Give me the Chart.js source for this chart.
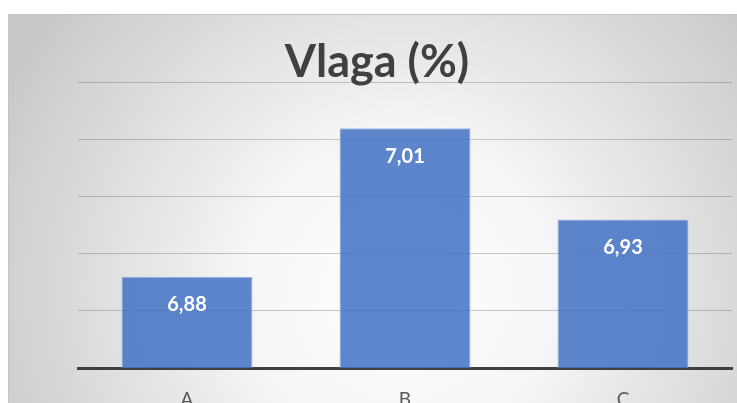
<!DOCTYPE html>
<html>
<head>
<meta charset="utf-8">
<script src="https://cdn.jsdelivr.net/npm/chart.js@4.4.1/dist/chart.umd.min.js"></script>
<style>
  html, body { margin: 0; padding: 0; background: #fff; }
  #wrap { width: 737px; height: 403px; overflow: hidden; position: relative; }
  canvas { display: block; }
</style>
</head>
<body>
<div id="wrap">
  <canvas id="chart" width="737" height="430"></canvas>
</div>
<script>
// Podaci
const categories = ['A', 'B', 'C'];
const vlagaValues = [6.88, 7.01, 6.93];
const yTicks = [6.80, 6.85, 6.90, 6.95, 7.00, 7.05];

// Siva pozadina s radijalnim gradijentom
const backgroundPlugin = {
  id: 'bgGradient',
  beforeDraw(chart) {
    const { ctx, width, height } = chart;
    ctx.save();
    const g = ctx.createRadialGradient(400, 290, 0, 400, 290, 440);
    g.addColorStop(0, '#ffffff');
    g.addColorStop(0.35, '#f6f6f6');
    g.addColorStop(1, '#c9c9c9');
    ctx.fillStyle = g;
    ctx.fillRect(8, 14, width - 8, height - 14);
    ctx.strokeStyle = '#c4c4c4';
    ctx.lineWidth = 1;
    ctx.beginPath();
    ctx.moveTo(8.5, height);
    ctx.lineTo(8.5, 14.5);
    ctx.lineTo(width, 14.5);
    ctx.stroke();
    ctx.restore();
  }
};

// Oznake vrijednosti unutar stupaca
const valueLabels = {
  id: 'valueLabels',
  afterDatasetsDraw(chart) {
    const { ctx } = chart;
    const meta = chart.getDatasetMeta(0);
    ctx.save();
    ctx.fillStyle = '#ffffff';
    ctx.font = 'bold 20px Lato';
    ctx.textAlign = 'center';
    ctx.textBaseline = 'middle';
    meta.data.forEach((bar, i) => {
      const txt = vlagaValues[i].toFixed(2).replace('.', ',');
      ctx.fillText(txt, bar.x, bar.y + 28);
    });
    ctx.restore();
  }
};

new Chart(document.getElementById('chart'), {
  type: 'bar',
  data: {
    labels: categories,
    datasets: [{
      label: 'Vlaga (%)',
      data: vlagaValues,
      backgroundColor: 'rgba(68, 114, 196, 0.86)',
      borderColor: 'rgba(150, 178, 222, 0.9)',
      borderWidth: 1,
      barPercentage: 0.601,
      categoryPercentage: 1
    }]
  },
  options: {
    responsive: false,
    animation: false,
    layout: {
      padding: { left: 22, right: 5, top: 0, bottom: 0 }
    },
    plugins: {
      legend: { display: false },
      tooltip: { enabled: false },
      title: {
        display: true,
        text: 'Vlaga (%)',
        color: '#404040',
        font: { family: 'Lato', size: 45, weight: 'bold', lineHeight: 0.9 },
        padding: { top: 42, bottom: 0 }
      }
    },
    scales: {
      x: {
        grid: { display: false, drawTicks: false },
        border: { display: true, color: '#404040', width: 3 },
        ticks: {
          color: '#595959',
          font: { family: 'Lato', size: 19 },
          padding: 20
        },
        afterFit(scale) { scale.height = 62; }
      },
      y: {
        min: yTicks[0],
        max: yTicks[yTicks.length - 1],
        afterBuildTicks(scale) {
          scale.ticks = yTicks.map(v => ({ value: v }));
        },
        grid: { color: 'rgba(0, 0, 0, 0.2)', lineWidth: 1, drawTicks: false },
        border: { display: false },
        ticks: { display: false },
        afterFit(scale) { scale.width = 56; }
      }
    }
  },
  plugins: [backgroundPlugin, valueLabels]
});
</script>
</body>
</html>
